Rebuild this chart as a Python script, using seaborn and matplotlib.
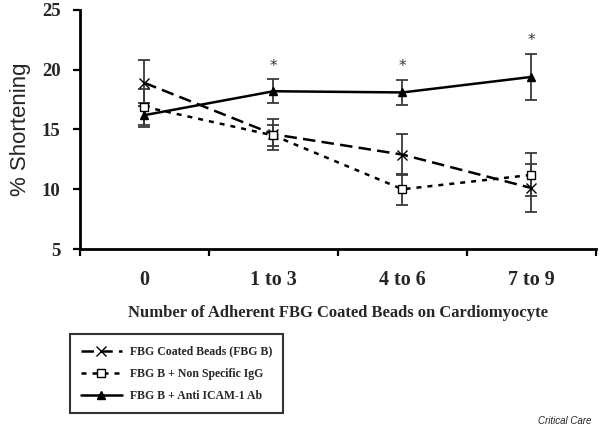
import numpy as np
import pandas as pd
import matplotlib
matplotlib.use('Agg')
import matplotlib.pyplot as plt
import seaborn as sns

# ── data ────────────────────────────────────────────────────
groups = ['0', '1 to 3', '4 to 6', '7 to 9']

fbg_mean = [18.9, 14.6, 12.9, 10.1]
fbg_err = [1.9, 1.3, 1.7, 2.0]

igg_mean = [16.9, 14.5, 10.0, 11.2]
igg_err = [1.5, 0.9, 1.3, 1.8]

icam_mean = [16.2, 18.2, 18.1, 19.4]
icam_err = [1.0, 1.0, 1.05, 1.95]
icam_sig = [False, True, True, True]

labels = ['FBG Coated Beads (FBG B)',
          'FBG B + Non Specific IgG',
          'FBG B + Anti ICAM-1 Ab']

sns.set_theme(style="white")
plt.rcParams['font.family'] = ['Liberation Serif', 'DejaVu Serif']

pos = np.arange(len(groups)) + 0.5
df = pd.DataFrame({'pos': np.tile(pos, 3),
                   'mean': fbg_mean + igg_mean + icam_mean,
                   'err': fbg_err + igg_err + icam_err,
                   'series': np.repeat(labels, len(groups))})

fig = plt.figure(figsize=(6, 4.32), dpi=100)
ax = fig.add_axes([0.1333, 0.4236, 0.86, 0.5533])

styles = {
    labels[0]: dict(marker='x', ls=(0, (5, 2.5)), ms=6.5, mfc='black', mew=1.0),
    labels[1]: dict(marker='s', ls=(0, (2, 2.4)), ms=5.5, mfc='white', mew=1.0),
    labels[2]: dict(marker='^', ls='-', ms=6, mfc='black', mew=1.0),
}

for name in labels:
    sub = df[df['series'] == name]
    ax.errorbar(sub['pos'], sub['mean'], yerr=sub['err'], fmt='none',
                ecolor='#3a3a3a', elinewidth=1.3, capsize=4, capthick=1.3,
                zorder=2)
    st = styles[name]
    sns.lineplot(data=sub, x='pos', y='mean', ax=ax, color='black',
                 linewidth=1.8, linestyle=st['ls'], marker=st['marker'],
                 markersize=st['ms'], markerfacecolor=st['mfc'],
                 markeredgecolor='black', markeredgewidth=st['mew'],
                 label=name, zorder=3, legend=False)

# significance stars
for p, m, e, s in zip(pos, icam_mean, icam_err, icam_sig):
    if s:
        ax.annotate('*', (p, m + e), xytext=(0, 4), textcoords='offset points',
                    ha='center', va='bottom', fontsize=11, color='#333333',
                    family='DejaVu Sans')

ax.set_xlim(0, 4)
ax.set_ylim(5, 25)
ax.set_yticks([5, 10, 15, 20, 25])
ax.set_xticks([0, 1, 2, 3, 4])
ax.set_xticklabels([])
ax.set_xticks(pos, minor=True)
ax.set_xticklabels(groups, minor=True)
ax.tick_params(axis='x', which='minor', length=0, pad=15)
ax.tick_params(axis='y', which='major', pad=9)
ax.tick_params(axis='both', which='major', direction='out', length=5,
               width=1.6, color='black', left=True, bottom=True)
for lab in ax.get_yticklabels():
    lab.set_fontweight('bold')
    lab.set_fontsize(13.5)
for lab in ax.get_xticklabels(minor=True):
    lab.set_fontweight('bold')
    lab.set_fontsize(14.5)

for sp in ['top', 'right']:
    ax.spines[sp].set_visible(False)
for sp in ['left', 'bottom']:
    ax.spines[sp].set_linewidth(2)
    ax.spines[sp].set_color('black')

ax.set_xlabel('Number of Adherent FBG Coated Beads on Cardiomyocyte',
              fontsize=12, fontweight='bold', labelpad=11)
ax.set_ylabel('% Shortening', fontsize=16, family=['Liberation Sans'],
              labelpad=8)

handles, _ = ax.get_legend_handles_labels()
leg = fig.legend(handles, labels, loc='lower left',
                 bbox_to_anchor=(0.117, 0.044), borderaxespad=0,
                 frameon=True, fancybox=False, edgecolor='black',
                 handlelength=3.4, handletextpad=0.7, labelspacing=0.85,
                 borderpad=0.95, prop={'weight': 'bold', 'size': 8.5})
leg.get_frame().set_linewidth(1.5)

fig.text(0.985, 0.015, 'Critical Care', ha='right', va='bottom',
         fontsize=7, style='italic', family='Liberation Sans')

fig.savefig('out.png', dpi=100)
